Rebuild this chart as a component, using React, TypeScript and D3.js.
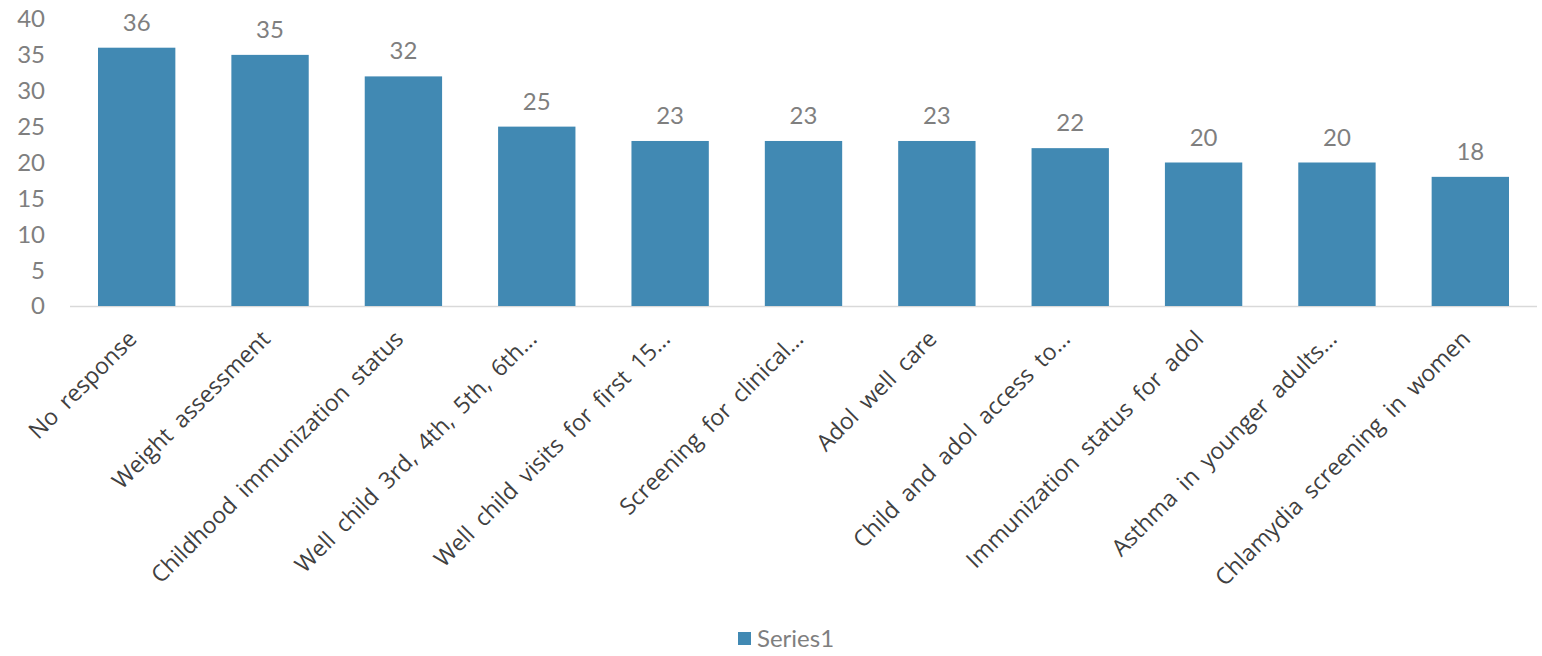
import React from "react";
import * as d3 from "d3";

const categories = [
  "No response",
  "Weight assessment",
  "Childhood immunization status",
  "Well child 3rd, 4th, 5th, 6th...",
  "Well child visits for first 15...",
  "Screening for clinical...",
  "Adol well care",
  "Child and adol access to...",
  "Immunization status for adol",
  "Asthma in younger adults...",
  "Chlamydia screening in women",
];
const values = [36, 35, 32, 25, 23, 23, 23, 22, 20, 20, 18];
const yTicks = [0, 5, 10, 15, 20, 25, 30, 35, 40];
const seriesName = "Series1";

const W = 1542;
const H = 656;
const left = 70;
const right = 1537;
const top = 19;
const bottom = 306;
const FONT = "Lato, 'Open Sans', sans-serif";
const CAT_FONT = "'Open Sans', sans-serif";
const BAR = "#4189b3";

export default function App() {
  const x = d3.scaleBand<string>().domain(categories).range([left, right]).paddingInner(0.42).paddingOuter(0.21);
  const y = d3.scaleLinear().domain([0, 40]).range([bottom, top]);
  return (
    <svg width={W} height={H} style={{ position: "absolute", left: 0, top: 0 }}>
      <rect width={W} height={H} fill="#fff" />
      {yTicks.map((t) => (
        <text key={t} x={45} y={y(t)} dy="0.35em" textAnchor="end" fontFamily={FONT} fontSize={24} fill="#7f7f7f">
          {t}
        </text>
      ))}
      <line x1={left} x2={right} y1={bottom + 0.5} y2={bottom + 0.5} stroke="#d9d9d9" strokeWidth={1.5} />
      {categories.map((c, i) => {
        const bx = x(c)!;
        const cx = bx + x.bandwidth() / 2;
        return (
          <g key={c}>
            <rect x={bx} y={y(values[i])} width={x.bandwidth()} height={bottom - y(values[i])} fill={BAR} />
            <text x={cx} y={y(values[i]) - 17} textAnchor="middle" fontFamily={FONT} fontSize={24} fill="#7f7f7f">
              {values[i]}
            </text>
            <text
              transform={`translate(${cx - 10},${bottom + 23}) rotate(-45)`}
              textAnchor="end"
              dy="0.7em"
              fontFamily={CAT_FONT}
              fontSize={23}
              wordSpacing={5}
              fill="#404040"
            >
              {c}
            </text>
          </g>
        );
      })}
      <rect x={738} y={632} width={13} height={13} fill={BAR} />
      <text x={757} y={638.5} dy="0.35em" fontFamily={FONT} fontSize={24} fill="#7f7f7f">
        {seriesName}
      </text>
    </svg>
  );
}
